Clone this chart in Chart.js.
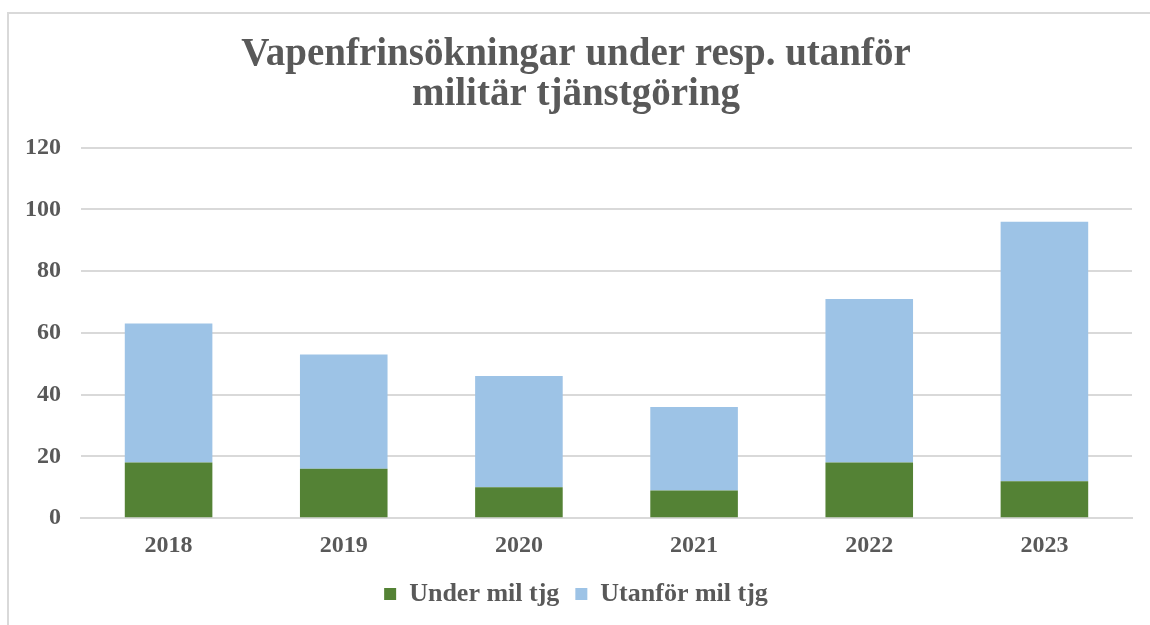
<!DOCTYPE html>
<html>
<head>
<meta charset="utf-8">
<script src="https://cdn.jsdelivr.net/npm/chart.js@4"></script>
<style>
  html, body { margin: 0; padding: 0; background: #fff; }
  .wrap { position: relative; width: 1150px; height: 625px; overflow: hidden; }
  .frame { position: absolute; left: 7px; top: 12px; width: 1200px; height: 700px;
           border-left: 2px solid #d9d9d9; border-top: 2px solid #d9d9d9; }
  canvas { position: absolute; left: 0; top: 0; }
</style>
</head>
<body>
<div class="wrap">
  <div class="frame"></div>
  <canvas id="chart" width="1150" height="625"></canvas>
</div>
<script>
const years = ["2018", "2019", "2020", "2021", "2022", "2023"];
const underMil = [18, 16, 10, 9, 18, 12];
const utanforMil = [45, 37, 36, 27, 53, 84];
const yTicks = [0, 20, 40, 60, 80, 100, 120];

const textColor = "#595959";
const gridColor = "#d9d9d9";
const serif = "'Liberation Serif', 'DejaVu Serif', serif";

new Chart(document.getElementById("chart"), {
  type: "bar",
  data: {
    labels: years,
    datasets: [
      { label: "Under mil tjg", data: underMil, backgroundColor: "#548235" },
      { label: "Utanför mil tjg", data: utanforMil, backgroundColor: "#9dc3e6" }
    ]
  },
  options: {
    responsive: false,
    animation: false,
    layout: { padding: { left: 20, right: 18, top: 0, bottom: 8 } },
    datasets: { bar: { categoryPercentage: 1, barPercentage: 0.5 } },
    plugins: {
      title: {
        display: true,
        text: ["Vapenfrinsökningar under resp. utanför", "militär tjänstgöring"],
        color: textColor,
        font: { family: serif, size: 39, weight: "bold", lineHeight: 1.02 },
        padding: { top: 35, bottom: 33 }
      },
      legend: {
        position: "bottom",
        labels: {
          color: textColor,
          font: { family: serif, size: 26, weight: "bold" },
          boxWidth: 12,
          boxHeight: 12,
          padding: 16
        }
      },
      tooltip: { enabled: false }
    },
    scales: {
      x: {
        stacked: true,
        grid: { display: false },
        border: { color: gridColor, width: 2 },
        ticks: { color: textColor, font: { family: serif, size: 24, weight: "bold" }, padding: 5 }
      },
      y: {
        stacked: true,
        min: 0,
        max: 120,
        afterBuildTicks: (scale) => { scale.ticks = yTicks.map((v) => ({ value: v })); },
        afterFit: (scale) => { scale.width = 61; },
        grid: { color: gridColor, lineWidth: 2, drawTicks: false },
        border: { display: false },
        ticks: { color: textColor, font: { family: serif, size: 24, weight: "bold" }, padding: 20 }
      }
    }
  }
});
</script>
</body>
</html>
